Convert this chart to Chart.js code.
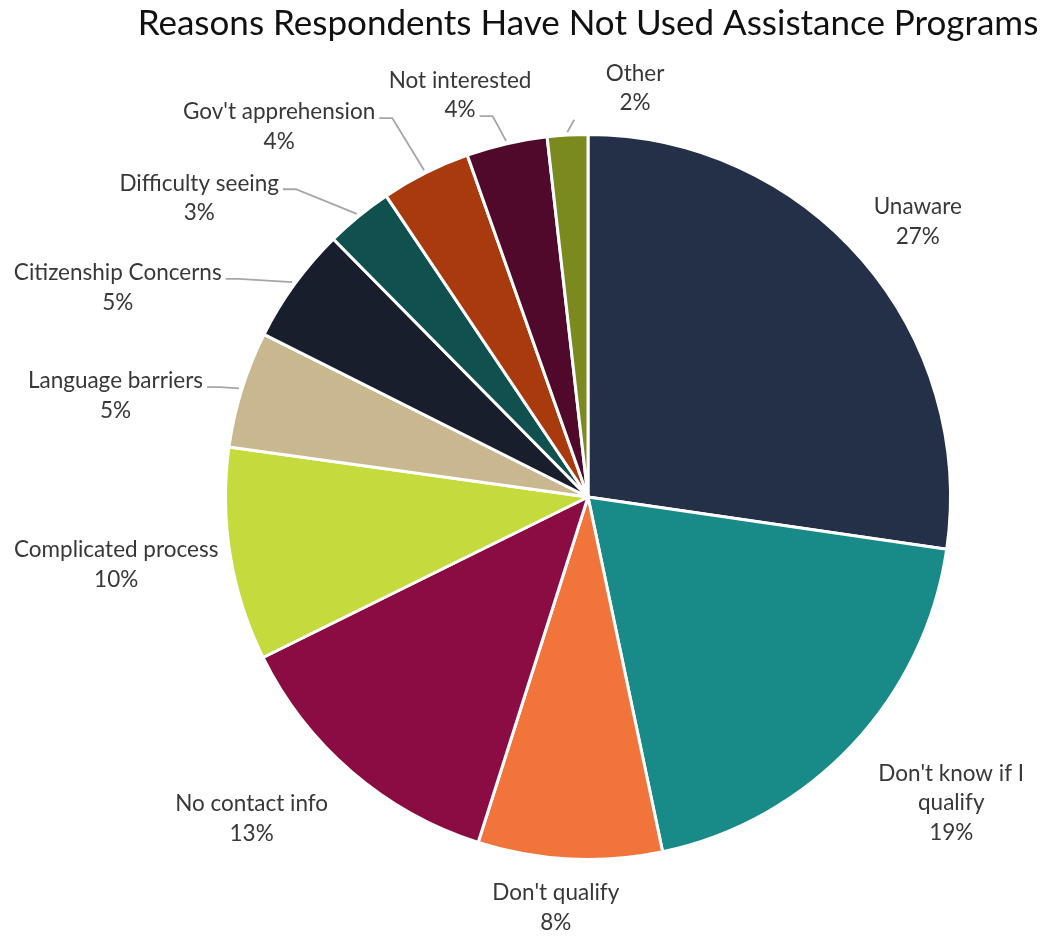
<!DOCTYPE html>
<html>
<head>
<meta charset="utf-8">
<script src="https://cdn.jsdelivr.net/npm/chart.js@4.4.1/dist/chart.umd.min.js"></script>
<style>
  html, body { margin: 0; padding: 0; background: #fff; }
  #wrap { width: 1044px; height: 936px; }
</style>
</head>
<body>
<div id="wrap"><canvas id="reasonsChart" width="1044" height="936"></canvas></div>
<script>
// Reasons respondents have not used assistance programs (share of responses, %)
const chartTitle = 'Reasons Respondents Have Not Used Assistance Programs';
const categories = ['Unaware', "Don't know if I qualify", "Don't qualify", 'No contact info',
  'Complicated process', 'Language barriers', 'Citizenship Concerns', 'Difficulty seeing',
  "Gov't apprehension", 'Not interested', 'Other'];
const shares = [27.3, 19.4, 8.2, 12.8, 9.5, 5.2, 5.2, 3.0, 4.0, 3.6, 1.8];
const shareLabels = ['27%', '19%', '8%', '13%', '10%', '5%', '5%', '3%', '4%', '4%', '2%'];
const sliceColors = ['#233047', '#188A87', '#F1743B', '#8B0C42', '#C5DA3C', '#C8B78F',
  '#181E2B', '#10504F', '#A83A0D', '#50092A', '#7A8A1E'];

// label placement: [angle nudge (deg) from slice middle, distance as fraction of radius, leader type, wrap width]
const labelLayout = [
  [1.0, 1.185, null, 0],
  [-3.1, 1.31, null, 175],
  [1.6, 1.136, null, 0],
  [5.6, 1.284, null, 0],
  [1.0, 1.315, null, 0],
  [-5.2, 1.333, 'elbow0', 0],
  [-12, 1.42, 'elbow0', 0],
  [-13.2, 1.353, 'elbow0', 0],
  [-13.2, 1.33, 'elbow0', 0],
  [-4.7, 1.163, 'elbow1', 0],
  [9.8, 1.135, 'radial', 0]
];

const labelFont = '22.5px Lato, "Open Sans", sans-serif';
const titleFont = '35px Lato, "Open Sans", sans-serif';
const lineH = 29.5;

function wrapText(ctx, text, maxW) {
  if (!maxW) return [text];
  const words = text.split(' ');
  const lines = [];
  let cur = '';
  words.forEach(function (w) {
    const t = cur ? cur + ' ' + w : w;
    if (ctx.measureText(t).width > maxW && cur) { lines.push(cur); cur = w; }
    else cur = t;
  });
  if (cur) lines.push(cur);
  return lines;
}

const outsideLabels = {
  id: 'outsideLabels',
  afterDatasetsDraw(chart) {
    const ctx = chart.ctx;
    const arcs = chart.getDatasetMeta(0).data;
    ctx.save();

    // title, centred over the pie
    ctx.font = titleFont;
    ctx.fillStyle = '#111111';
    ctx.textAlign = 'center';
    ctx.textBaseline = 'middle';
    ctx.fillText(chartTitle, (chart.chartArea.left + chart.chartArea.right) / 2, 24);

    ctx.font = labelFont;
    arcs.forEach(function (arc, i) {
      const p = arc.getProps(['x', 'y', 'startAngle', 'endAngle', 'outerRadius'], true);
      const mid = (p.startAngle + p.endAngle) / 2;
      const lay = labelLayout[i];
      const a = mid + lay[0] * Math.PI / 180;
      const cx = p.x + Math.cos(a) * p.outerRadius * lay[1];
      const cy = p.y + Math.sin(a) * p.outerRadius * lay[1];
      const lines = wrapText(ctx, categories[i], lay[3]).concat([shareLabels[i]]);
      const top = cy - (lines.length - 1) * lineH / 2;

      // leader lines
      if (lay[2]) {
        ctx.strokeStyle = '#A6A6A6';
        ctx.lineWidth = 1.8;
        ctx.beginPath();
        const ex = p.x + Math.cos(mid) * (p.outerRadius + 3);
        const ey = p.y + Math.sin(mid) * (p.outerRadius + 3);
        if (lay[2] === 'radial') {
          ctx.moveTo(ex, ey);
          ctx.lineTo(p.x + Math.cos(mid + 0.02) * (p.outerRadius + 15),
                     p.y + Math.sin(mid + 0.02) * (p.outerRadius + 15));
        } else {
          const li = lay[2] === 'elbow1' ? 1 : 0;
          const w = ctx.measureText(lines[li]).width;
          const sx = cx + w / 2 + 4;
          const sy = top + li * lineH + 6;
          ctx.moveTo(sx, sy);
          ctx.lineTo(sx + 13, sy);
          ctx.lineTo(ex, ey);
        }
        ctx.stroke();
      }

      ctx.fillStyle = '#383838';
      lines.forEach(function (ln, k) {
        ctx.fillText(ln, cx, top + k * lineH);
      });
    });
    ctx.restore();
  }
};

const ctx = document.getElementById('reasonsChart').getContext('2d');
const reasonsChart = new Chart(ctx, {
  type: 'pie',
  data: {
    labels: categories,
    datasets: [{
      data: shares,
      backgroundColor: sliceColors,
      borderColor: '#ffffff',
      borderWidth: 3
    }]
  },
  options: {
    responsive: false,
    animation: false,
    layout: {
      padding: { left: 224, right: 92, top: 133, bottom: 75 }
    },
    plugins: {
      legend: { display: false },
      tooltip: { enabled: false },
      title: { display: false }
    }
  },
  plugins: [outsideLabels]
});
</script>
</body>
</html>
